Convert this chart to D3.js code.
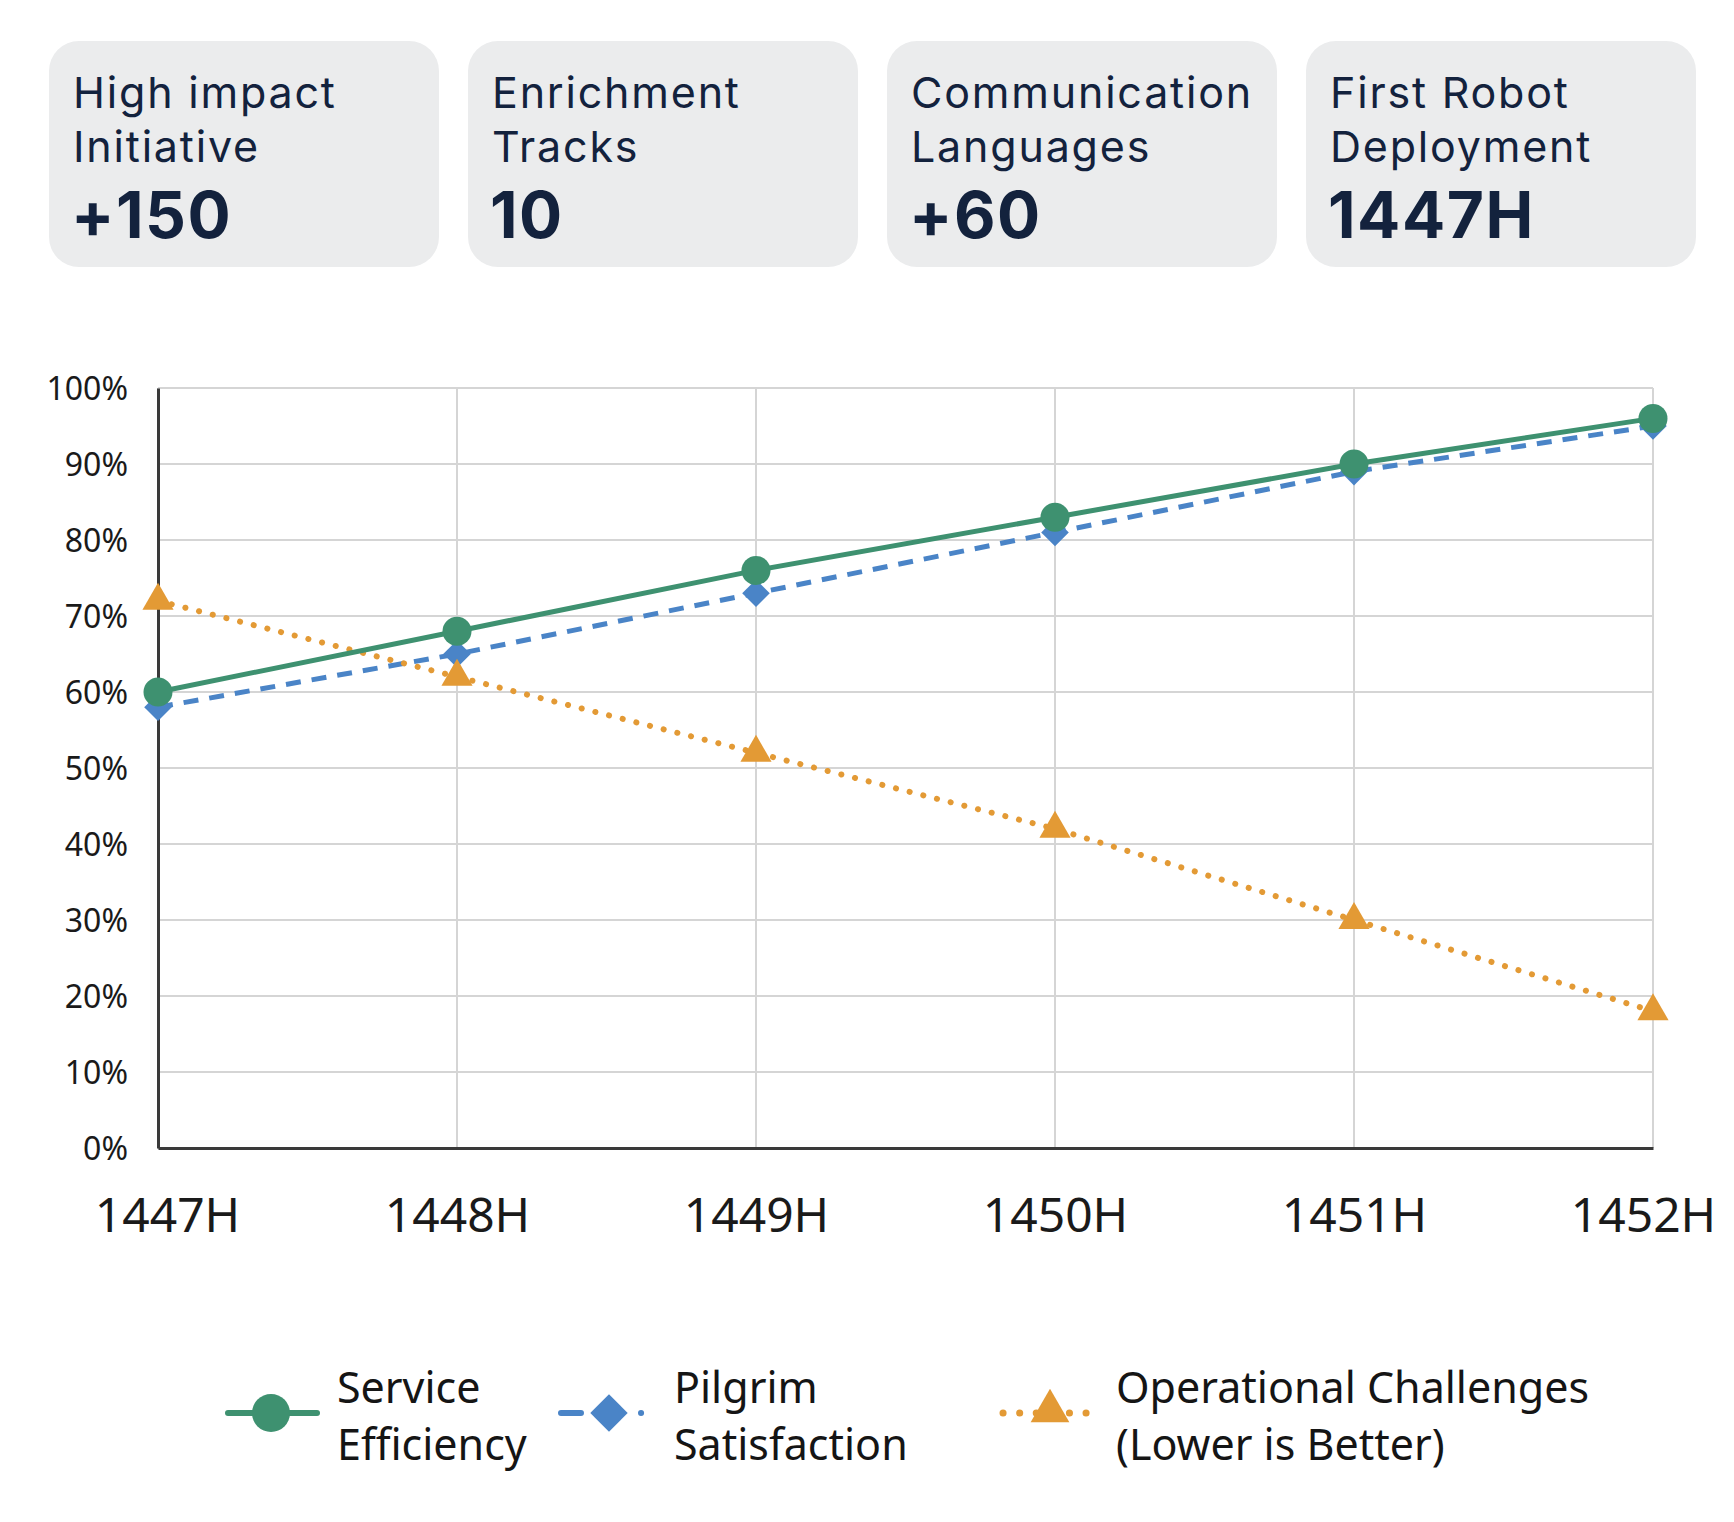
<!DOCTYPE html>
<html>
<head>
<meta charset="utf-8">
<script src="https://cdn.jsdelivr.net/npm/d3@7"></script>
<style>
  html, body { margin: 0; padding: 0; background: #ffffff; }
  svg { display: block; }
</style>
</head>
<body>
<svg id="chart" width="1734" height="1522"></svg>
<script>
// ---- Data ----
const cardTitles = [["High impact", "Initiative"], ["Enrichment", "Tracks"], ["Communication", "Languages"], ["First Robot", "Deployment"]];
const cardValues = ["+150", "10", "+60", "1447H"];

const years = ["1447H", "1448H", "1449H", "1450H", "1451H", "1452H"];
const serviceEfficiency = [60, 68, 76, 83, 90, 96];
const pilgrimSatisfaction = [58, 65, 73, 81, 89, 95];
const operationalChallenges = [72, 62, 52, 42, 30, 18];
const yTicks = [0, 10, 20, 30, 40, 50, 60, 70, 80, 90, 100];
const legendLabels = [["Service", "Efficiency"], ["Pilgrim", "Satisfaction"], ["Operational Challenges", "(Lower is Better)"]];

// ---- Drawing ----
const svg = d3.select("#chart");
const FONT = "'Noto Sans', 'Open Sans', sans-serif";
const CARD_FONT = "Inter, 'Noto Sans', sans-serif";
const navy = "#13223d";

// Cards
const cardX = d3.scaleBand().domain(d3.range(cardTitles.length)).range([49, 1696 + 29]).paddingInner(0).paddingOuter(0);
const cardW = 390;
const cards = svg.append("g").selectAll("g").data(cardTitles).join("g")
  .attr("transform", (d, i) => `translate(${cardX(i)},41)`);
cards.append("rect").attr("width", cardW).attr("height", 226).attr("rx", 30).attr("ry", 30).attr("fill", "#ebeced");
cards.each(function(d, i) {
  const t = d3.select(this).append("text").attr("font-family", CARD_FONT).attr("fill", navy);
  t.append("tspan").attr("x", 24).attr("y", 67).attr("font-size", 43).attr("letter-spacing", 1.8).text(d[0]);
  t.append("tspan").attr("x", 24).attr("y", 121).attr("font-size", 43).attr("letter-spacing", 1.8).text(d[1]);
  t.append("tspan").attr("x", 22).attr("y", 197).attr("font-size", 64).attr("font-weight", 700).attr("letter-spacing", 1.5).text(cardValues[i]);
});

// Chart scales
const x = d3.scalePoint().domain(years).range([158, 1653]);
const y = d3.scaleLinear().domain([0, 100]).range([1148, 388]);

const plot = svg.append("g");

// Horizontal grid
plot.append("g").selectAll("line").data(yTicks).join("line")
  .attr("x1", x.range()[0]).attr("x2", x.range()[1])
  .attr("y1", d => y(d)).attr("y2", d => y(d))
  .attr("stroke", "#d5d5d5").attr("stroke-width", 2);
// Vertical grid
plot.append("g").selectAll("line").data(years).join("line")
  .attr("x1", d => x(d)).attr("x2", d => x(d))
  .attr("y1", y(100)).attr("y2", y(0))
  .attr("stroke", "#d5d5d5").attr("stroke-width", 2);

// Y axis
const yAxis = plot.append("g").attr("transform", `translate(${x.range()[0]},0)`)
  .call(d3.axisLeft(y).tickValues(yTicks).tickFormat(d => d + "%").tickSize(0).tickPadding(30));
yAxis.select(".domain").attr("stroke", "#3a3a3a").attr("stroke-width", 3);
yAxis.selectAll("text").attr("font-family", FONT).attr("font-size", 32).attr("fill", "#1a1a1a").attr("dy", "0.36em");

// X axis
const xAxis = plot.append("g").attr("transform", `translate(0,${y(0)})`)
  .call(d3.axisBottom(x).tickSize(0).tickPadding(50));
xAxis.select(".domain").attr("stroke", "#3a3a3a").attr("stroke-width", 3);
xAxis.selectAll("text").attr("font-family", FONT).attr("font-size", 48).attr("fill", "#1a1a1a").attr("dy", "0.71em")
  .attr("dx", (d, i) => i === 0 ? 9 : (i === years.length - 1 ? -10 : 0));

// Series
const colors = { green: "#3e9170", blue: "#4a84c7", orange: "#e39a35" };
const line = d3.line().x((d, i) => x(years[i])).y(d => y(d));

const symDiamond = d3.symbol().type(d3.symbolSquare).size(380);
const symTriangle = d3.symbol().type(d3.symbolTriangle).size(420);

// Pilgrim Satisfaction (blue dashed)
plot.append("path").datum(pilgrimSatisfaction).attr("d", line)
  .attr("fill", "none").attr("stroke", colors.blue).attr("stroke-width", 5)
  .attr("stroke-dasharray", "15 11");
plot.append("g").selectAll("path").data(pilgrimSatisfaction).join("path")
  .attr("d", symDiamond)
  .attr("transform", (d, i) => `translate(${x(years[i])},${y(d)}) rotate(45)`)
  .attr("fill", colors.blue);

// Operational Challenges (orange dotted)
plot.append("path").datum(operationalChallenges).attr("d", line)
  .attr("fill", "none").attr("stroke", colors.orange).attr("stroke-width", 6)
  .attr("stroke-linecap", "round").attr("stroke-dasharray", "0.1 14");
plot.append("g").selectAll("path").data(operationalChallenges).join("path")
  .attr("d", symTriangle)
  .attr("transform", (d, i) => `translate(${x(years[i])},${y(d)})`)
  .attr("fill", colors.orange);

// Service Efficiency (green solid)
plot.append("path").datum(serviceEfficiency).attr("d", line)
  .attr("fill", "none").attr("stroke", colors.green).attr("stroke-width", 5);
plot.append("g").selectAll("circle").data(serviceEfficiency).join("circle")
  .attr("cx", (d, i) => x(years[i])).attr("cy", d => y(d)).attr("r", 14.5)
  .attr("fill", colors.green);

// Legend
const legend = svg.append("g");
const ly = 1413;
const legendItems = [
  { lx1: 228, lx2: 317, cx: 271, tx: 337, color: colors.green, kind: "circle" },
  { lx1: 561, lx2: 650, cx: 609, tx: 674, color: colors.blue, kind: "diamond" },
  { lx1: 1003, lx2: 1092, cx: 1050, tx: 1116, color: colors.orange, kind: "triangle" }
];
legendItems.forEach((it, i) => {
  const g = legend.append("g");
  const ln = g.append("line").attr("x1", it.lx1).attr("x2", it.lx2).attr("y1", ly).attr("y2", ly)
    .attr("stroke", it.color);
  if (it.kind === "circle") {
    ln.attr("stroke-width", 6).attr("stroke-linecap", "round");
    g.append("circle").attr("cx", it.cx).attr("cy", ly).attr("r", 19).attr("fill", it.color);
  } else if (it.kind === "diamond") {
    ln.attr("stroke-width", 6).attr("stroke-linecap", "round").attr("stroke-dasharray", "20 60 0.1 20");
    g.append("path").attr("d", d3.symbol().type(d3.symbolSquare).size(700))
      .attr("transform", `translate(${it.cx},${ly}) rotate(45)`).attr("fill", it.color);
  } else {
    ln.attr("stroke-width", 7).attr("stroke-linecap", "round").attr("stroke-dasharray", "0.1 16.5");
    g.append("path").attr("d", d3.symbol().type(d3.symbolTriangle).size(650))
      .attr("transform", `translate(${it.cx},${ly - 2})`).attr("fill", it.color);
  }
  const t = g.append("text").attr("font-family", FONT).attr("font-size", 43).attr("fill", "#151515");
  t.append("tspan").attr("x", it.tx).attr("y", 1403).text(legendLabels[i][0]);
  t.append("tspan").attr("x", it.tx).attr("y", 1460).text(legendLabels[i][1]);
});
</script>
</body>
</html>
